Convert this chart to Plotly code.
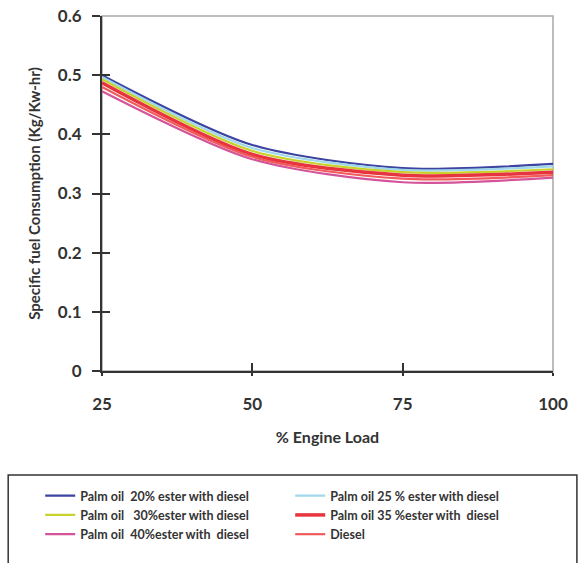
import plotly.graph_objects as go

# ---- data ----
loads = [25, 50, 75, 100]
names = [
    "Palm oil\u00a0 20% ester with diesel",
    "Palm oil 25 % ester with diesel",
    "Palm oil\u00a0\u00a0 30%ester with diesel",
    "Palm oil 35 %ester with\u00a0 diesel",
    "Palm oil\u00a0 40%ester with\u00a0 diesel",
    "Diesel",
]
sfc_20 = [0.500, 0.382, 0.343, 0.350]
sfc_25 = [0.497, 0.377, 0.340, 0.346]
sfc_30 = [0.493, 0.372, 0.336, 0.341]
sfc_35 = [0.487, 0.366, 0.331, 0.336]
sfc_40 = [0.473, 0.358, 0.319, 0.327]
sfc_diesel = [0.480, 0.362, 0.325, 0.331]
series = [sfc_20, sfc_25, sfc_30, sfc_35, sfc_40, sfc_diesel]
colors = ["#3c43a0", "#9fd8ea", "#c9d12c", "#e8343e", "#d4549a", "#f05a5a"]
widths = [2.2, 2.2, 2.2, 3.5, 2.2, 2.2]

y_ticks = [0, 0.1, 0.2, 0.3, 0.4, 0.5, 0.6]
x_ticks = [25, 50, 75, 100]

FONT = "Lato"
TXT = "#333333"

fig = go.Figure()
for nm, vals, c, w in zip(names, series, colors, widths):
    fig.add_trace(go.Scatter(x=loads, y=vals, name=nm, mode="lines",
                             line=dict(color=c, width=w, shape="spline", smoothing=0.8)))

# helper trace for overlay axes (inside ticks)
fig.add_trace(go.Scatter(x=[None], y=[None], xaxis="x2", yaxis="y2",
                         showlegend=False, hoverinfo="skip"))

fig.update_layout(
    width=581, height=563,
    margin=dict(l=102, r=28, t=16, b=192, autoexpand=False),
    paper_bgcolor="white", plot_bgcolor="white",
    font=dict(family=FONT, color=TXT),
    showlegend=True,
    xaxis=dict(range=[25, 100], tickvals=x_ticks, showgrid=False, zeroline=False,
               automargin=False,
               showline=True, linecolor="#333", linewidth=2,
               ticks="outside", ticklen=3, tickwidth=2, tickcolor="#333",
               ticklabelstandoff=14,
               tickfont=dict(family=FONT, size=17, color=TXT, weight="bold"),
               title=dict(text="% Engine Load", standoff=18,
                          font=dict(family=FONT, size=16, color=TXT, weight="bold"))),
    yaxis=dict(range=[0, 0.6], tickvals=y_ticks, showgrid=False, zeroline=False,
               automargin=False,
               showline=True, linecolor="#333", linewidth=2,
               ticks="outside", ticklen=8, tickwidth=2, tickcolor="#333",
               ticklabelstandoff=7,
               tickfont=dict(family=FONT, size=17, color=TXT, weight="bold"),
               title=dict(text="Specific fuel Consumption (Kg/Kw-hr)", standoff=14,
                          font=dict(family=FONT, size=15, color=TXT, weight="bold"))),
    xaxis2=dict(range=[25, 100], tickvals=x_ticks, overlaying="x", anchor="y2",
                showgrid=False, zeroline=False, showline=False, automargin=False,
                ticks="inside", ticklen=8, tickwidth=2, tickcolor="#333",
                showticklabels=False),
    yaxis2=dict(range=[0, 0.6], tickvals=y_ticks, overlaying="y", anchor="x2",
                side="left", showgrid=False, zeroline=False, showline=False,
                automargin=False,
                ticks="inside", ticklen=8, tickwidth=2, tickcolor="#333",
                showticklabels=False),
    legend=dict(orientation="h", x=-0.137, xanchor="left", y=-0.31, yanchor="top",
                entrywidthmode="pixels", entrywidth=205,
                font=dict(family=FONT, size=12.5, color=TXT, weight="bold"),
                bgcolor="rgba(0,0,0,0)", borderwidth=0, traceorder="normal"),
    shapes=[
        dict(type="rect", xref="paper", yref="paper", x0=0, x1=1, y0=0, y1=1,
             line=dict(color="#a8a8a8", width=1.5), layer="below"),
        dict(type="rect", xref="paper", yref="paper", x0=-0.208, x1=1.053,
             y0=-0.58, y1=-0.293, line=dict(color="#333", width=1.5)),
    ],
)

fig.write_html("out.html", config={"displayModeBar": False},
               post_script="document.body.style.margin='0';document.body.style.overflow='hidden';")
